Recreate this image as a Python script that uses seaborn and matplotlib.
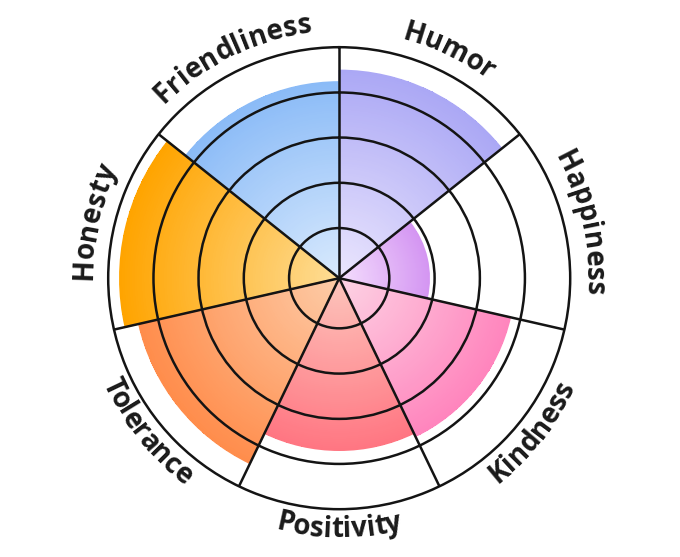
import numpy as np
import matplotlib
matplotlib.use("Agg")
import matplotlib.pyplot as plt
import seaborn as sns
from matplotlib.colors import LinearSegmentedColormap
from matplotlib.font_manager import FontProperties

# ---- data ----
categories = ["Humor", "Happiness", "Kindness", "Positivity",
              "Tolerance", "Honesty", "Friendliness"]
values = [90, 39, 76, 74.5, 89, 95, 85]
inner_colors = ["#ebe6fd", "#f4defd", "#fdd3e4", "#fdc5bc",
                "#fdcca8", "#fedd96", "#d9eafd"]
outer_colors = ["#aba8f5", "#d496f2", "#ff85bd", "#ff7682",
                "#ff8d4c", "#ffa400", "#8bbbf7"]
label_side = ["top", "top", "bottom", "bottom", "bottom", "top", "top"]
ring_values = [21.7, 41.3, 60.9, 80.4]
RMAX = 100

sns.set_theme(style="white")
plt.rcParams['font.family'] = ['Open Sans', 'DejaVu Sans']

W, H = 680, 557
fig = plt.figure(figsize=(W / 100, H / 100), dpi=100)
fig.patch.set_facecolor("white")
cx, cy, R = 339.2, 278.2, 231.0
ax = fig.add_axes([(cx - R) / W, (H - cy - R) / H, 2 * R / W, 2 * R / H],
                  projection="polar")
ax.set_theta_zero_location("N")
ax.set_theta_direction(-1)
ax.set_ylim(0, RMAX)
ax.set_facecolor("white")

n = len(categories)
width = 2 * np.pi / n
for i, (v, c0, c1) in enumerate(zip(values, inner_colors, outer_colors)):
    t0 = i * width
    th = np.linspace(t0, t0 + width, 80)
    rr = np.linspace(0, v, 90)
    T, Rg = np.meshgrid(th, rr)
    C = ((Rg[:-1, :-1] + Rg[1:, 1:]) / 2) / v
    cmap = LinearSegmentedColormap.from_list(f"g{i}", [c0, c1])
    ax.pcolormesh(T, Rg, C, cmap=cmap, vmin=0, vmax=1, shading="flat",
                  edgecolors="none", linewidth=0, antialiased=False, zorder=1)
    # smooth antialiased outer edge of the wedge
    ax.bar(t0, v, width=width, bottom=0, align="edge", facecolor="none",
           edgecolor=c1, linewidth=1.0, zorder=1.2)

line_col = "#141414"
ax.set_xticks(np.arange(n) * width)
ax.set_xticklabels([])
ax.set_yticks(ring_values)
ax.set_yticklabels([])
ax.tick_params(length=0)
ax.grid(True, color=line_col, linewidth=1.8)
ax.set_axisbelow(False)
ax.spines["polar"].set_color(line_col)
ax.spines["polar"].set_linewidth(1.8)

# ---- curved labels ----
fig.canvas.draw()
renderer = fig.canvas.get_renderer()
fp = FontProperties(family=['Open Sans', 'DejaVu Sans'], weight='bold', size=20)


def tw(s):
    if not s:
        return 0.0
    w, h, d = renderer.get_text_width_height_descent(s, fp, ismath=False)
    return w


for i, (lab, side) in enumerate(zip(categories, label_side)):
    phi_c = (i + 0.5) * width
    total = tw(lab)
    if side == "top":
        rb, sign = 247.0, 1.0
    else:
        rb, sign = 259.0, -1.0
    for j, ch in enumerate(lab):
        off = (tw(lab[:j]) + tw(lab[:j + 1])) / 2 - total / 2
        phi = phi_c + sign * off / rb
        if side == "top":
            rot = -np.degrees(phi)
        else:
            rot = 180 - np.degrees(phi)
        ax.text(phi, rb / R * RMAX, ch, rotation=rot, rotation_mode="anchor",
                ha="center", va="baseline", fontproperties=fp,
                color="#1a1a1a", clip_on=False)

fig.savefig("out.png", dpi=100, facecolor="white")
